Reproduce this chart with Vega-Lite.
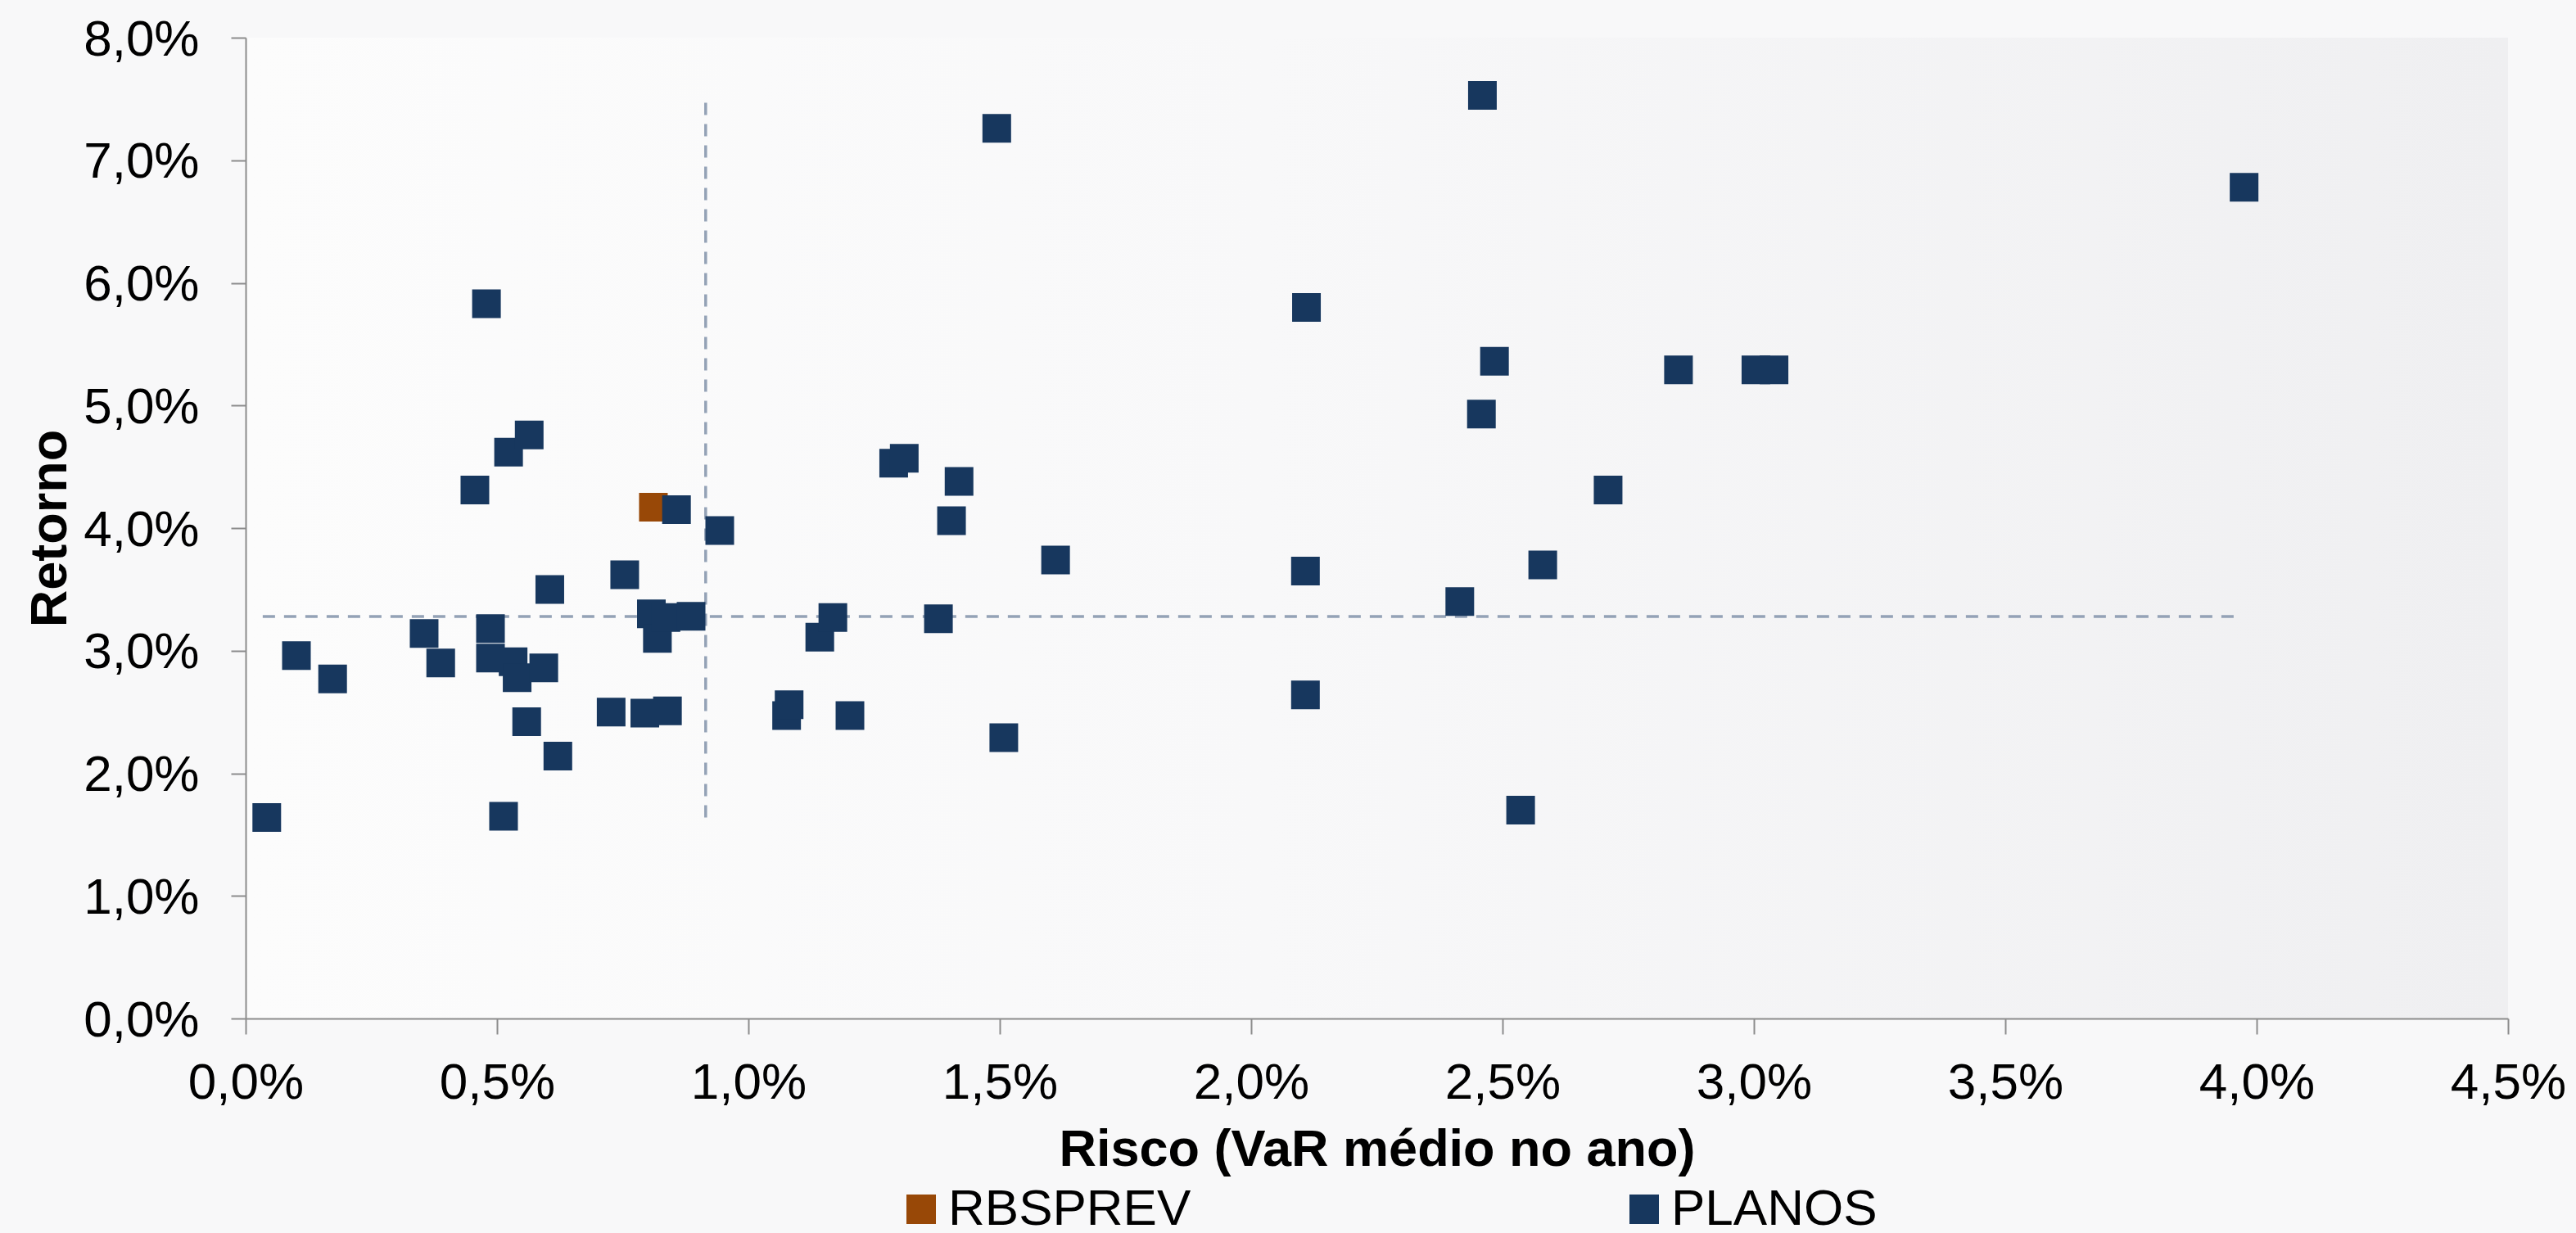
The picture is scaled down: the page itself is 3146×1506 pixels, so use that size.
{
  "$schema": "https://vega.github.io/schema/vega-lite/v6.json",
  "width": 2763,
  "height": 1198,
  "autosize": {"type": "none"},
  "padding": {"left": 300, "top": 46, "right": 83, "bottom": 262},
  "background": "#f8f8f9",
  "config": {
    "font": "Liberation Sans",
    "view": {
      "stroke": null,
      "fill": {
        "gradient": "linear", "x1": 0, "y1": 0, "x2": 1, "y2": 0,
        "stops": [
          {"offset": 0, "color": "#fcfcfc"},
          {"offset": 0.45, "color": "#f8f8f9"},
          {"offset": 1, "color": "#efeff1"}
        ]
      }
    },
    "axis": {
      "domainColor": "#8c8c8c",
      "domainWidth": 2,
      "tickColor": "#8c8c8c",
      "tickWidth": 2,
      "grid": false,
      "labelFont": "Liberation Sans",
      "labelFontSize": 62,
      "labelColor": "#000000",
      "labelFlush": false,
      "labelOverlap": false,
      "labelBound": false,
      "titleFont": "Liberation Sans",
      "titleFontSize": 63,
      "titleFontWeight": "bold",
      "titleColor": "#000000"
    }
  },
  "datasets": {
    "pts": [
      {"serie": "RBSPREV", "risco": 0.811, "retorno": 4.17},
      {"serie": "PLANOS", "risco": 0.042, "retorno": 1.64},
      {"serie": "PLANOS", "risco": 0.101, "retorno": 2.96},
      {"serie": "PLANOS", "risco": 0.173, "retorno": 2.77},
      {"serie": "PLANOS", "risco": 0.355, "retorno": 3.14},
      {"serie": "PLANOS", "risco": 0.388, "retorno": 2.90},
      {"serie": "PLANOS", "risco": 0.456, "retorno": 4.31},
      {"serie": "PLANOS", "risco": 0.479, "retorno": 5.83},
      {"serie": "PLANOS", "risco": 0.487, "retorno": 3.18},
      {"serie": "PLANOS", "risco": 0.487, "retorno": 2.94},
      {"serie": "PLANOS", "risco": 0.513, "retorno": 1.65},
      {"serie": "PLANOS", "risco": 0.523, "retorno": 4.62},
      {"serie": "PLANOS", "risco": 0.532, "retorno": 2.91},
      {"serie": "PLANOS", "risco": 0.540, "retorno": 2.78},
      {"serie": "PLANOS", "risco": 0.564, "retorno": 4.76},
      {"serie": "PLANOS", "risco": 0.559, "retorno": 2.42},
      {"serie": "PLANOS", "risco": 0.593, "retorno": 2.86},
      {"serie": "PLANOS", "risco": 0.605, "retorno": 3.50},
      {"serie": "PLANOS", "risco": 0.621, "retorno": 2.14},
      {"serie": "PLANOS", "risco": 0.727, "retorno": 2.50},
      {"serie": "PLANOS", "risco": 0.754, "retorno": 3.62},
      {"serie": "PLANOS", "risco": 0.794, "retorno": 2.49},
      {"serie": "PLANOS", "risco": 0.807, "retorno": 3.30},
      {"serie": "PLANOS", "risco": 0.819, "retorno": 3.10},
      {"serie": "PLANOS", "risco": 0.839, "retorno": 2.51},
      {"serie": "PLANOS", "risco": 0.836, "retorno": 3.27},
      {"serie": "PLANOS", "risco": 0.857, "retorno": 4.15},
      {"serie": "PLANOS", "risco": 0.886, "retorno": 3.28},
      {"serie": "PLANOS", "risco": 0.943, "retorno": 3.98},
      {"serie": "PLANOS", "risco": 1.076, "retorno": 2.47},
      {"serie": "PLANOS", "risco": 1.081, "retorno": 2.56},
      {"serie": "PLANOS", "risco": 1.142, "retorno": 3.11},
      {"serie": "PLANOS", "risco": 1.168, "retorno": 3.27},
      {"serie": "PLANOS", "risco": 1.202, "retorno": 2.47},
      {"serie": "PLANOS", "risco": 1.289, "retorno": 4.53},
      {"serie": "PLANOS", "risco": 1.310, "retorno": 4.57},
      {"serie": "PLANOS", "risco": 1.378, "retorno": 3.26},
      {"serie": "PLANOS", "risco": 1.404, "retorno": 4.06},
      {"serie": "PLANOS", "risco": 1.419, "retorno": 4.38},
      {"serie": "PLANOS", "risco": 1.494, "retorno": 7.26},
      {"serie": "PLANOS", "risco": 1.508, "retorno": 2.29},
      {"serie": "PLANOS", "risco": 1.611, "retorno": 3.74},
      {"serie": "PLANOS", "risco": 2.108, "retorno": 3.65},
      {"serie": "PLANOS", "risco": 2.108, "retorno": 2.64},
      {"serie": "PLANOS", "risco": 2.110, "retorno": 5.80},
      {"serie": "PLANOS", "risco": 2.415, "retorno": 3.40},
      {"serie": "PLANOS", "risco": 2.460, "retorno": 7.53},
      {"serie": "PLANOS", "risco": 2.458, "retorno": 4.93},
      {"serie": "PLANOS", "risco": 2.484, "retorno": 5.36},
      {"serie": "PLANOS", "risco": 2.536, "retorno": 1.70},
      {"serie": "PLANOS", "risco": 2.580, "retorno": 3.70},
      {"serie": "PLANOS", "risco": 2.710, "retorno": 4.31},
      {"serie": "PLANOS", "risco": 2.850, "retorno": 5.29},
      {"serie": "PLANOS", "risco": 3.004, "retorno": 5.29},
      {"serie": "PLANOS", "risco": 3.040, "retorno": 5.29},
      {"serie": "PLANOS", "risco": 3.975, "retorno": 6.78}
    ],
    "hline": [{"risco": 0.034, "risco2": 3.97, "retorno": 3.278}],
    "vline": [{"risco": 0.915, "retorno": 1.64, "retorno2": 7.5}]
  },
  "layer": [
    {
      "data": {"name": "hline"},
      "mark": {"type": "rule", "color": "#94a2b6", "strokeWidth": 3.5, "strokeDash": [15, 11]},
      "encoding": {
        "x": {
          "field": "risco", "type": "quantitative",
          "scale": {"domain": [0, 4.5], "nice": false},
          "axis": {
            "values": [0, 0.5, 1, 1.5, 2, 2.5, 3, 3.5, 4, 4.5],
            "labelExpr": "replace(format(datum.value, '.1f'), '.', ',') + '%'",
            "tickSize": 19,
            "labelPadding": 29,
            "title": "Risco (VaR médio no ano)",
            "titleX": 1381.5,
            "titleY": 179,
            "titleAlign": "center",
            "titleBaseline": "alphabetic",
            "titleAngle": 0
          }
        },
        "x2": {"field": "risco2"},
        "y": {
          "field": "retorno", "type": "quantitative",
          "scale": {"domain": [0, 8], "nice": false},
          "axis": {
            "values": [0, 1, 2, 3, 4, 5, 6, 7, 8],
            "labelExpr": "replace(format(datum.value, '.1f'), '.', ',') + '%'",
            "tickSize": 18,
            "labelPadding": 39,
            "labelOffset": 2,
            "title": "Retorno",
            "titleX": -220,
            "titleY": 599,
            "titleAngle": 270,
            "titleAlign": "center",
            "titleBaseline": "alphabetic"
          }
        }
      }
    },
    {
      "data": {"name": "vline"},
      "mark": {"type": "rule", "color": "#94a2b6", "strokeWidth": 3.5, "strokeDash": [15, 11]},
      "encoding": {
        "x": {
          "field": "risco", "type": "quantitative",
          "axis": {
            "values": [0, 0.5, 1, 1.5, 2, 2.5, 3, 3.5, 4, 4.5],
            "labelExpr": "replace(format(datum.value, '.1f'), '.', ',') + '%'",
            "tickSize": 19,
            "labelPadding": 29,
            "title": "Risco (VaR médio no ano)",
            "titleX": 1381.5,
            "titleY": 179,
            "titleAlign": "center",
            "titleBaseline": "alphabetic",
            "titleAngle": 0
          }
        },
        "y": {
          "field": "retorno", "type": "quantitative",
          "axis": {
            "values": [0, 1, 2, 3, 4, 5, 6, 7, 8],
            "labelExpr": "replace(format(datum.value, '.1f'), '.', ',') + '%'",
            "tickSize": 18,
            "labelPadding": 39,
            "labelOffset": 2,
            "title": "Retorno",
            "titleX": -220,
            "titleY": 599,
            "titleAngle": 270,
            "titleAlign": "center",
            "titleBaseline": "alphabetic"
          }
        },
        "y2": {"field": "retorno2"}
      }
    },
    {
      "data": {"name": "pts"},
      "mark": {"type": "point", "shape": "square", "filled": true, "size": 1225, "opacity": 1, "strokeWidth": 0},
      "encoding": {
        "x": {
          "field": "risco", "type": "quantitative",
          "axis": {
            "values": [0, 0.5, 1, 1.5, 2, 2.5, 3, 3.5, 4, 4.5],
            "labelExpr": "replace(format(datum.value, '.1f'), '.', ',') + '%'",
            "tickSize": 19,
            "labelPadding": 29,
            "title": "Risco (VaR médio no ano)",
            "titleX": 1381.5,
            "titleY": 179,
            "titleAlign": "center",
            "titleBaseline": "alphabetic",
            "titleAngle": 0
          }
        },
        "y": {
          "field": "retorno", "type": "quantitative",
          "axis": {
            "values": [0, 1, 2, 3, 4, 5, 6, 7, 8],
            "labelExpr": "replace(format(datum.value, '.1f'), '.', ',') + '%'",
            "tickSize": 18,
            "labelPadding": 39,
            "labelOffset": 2,
            "title": "Retorno",
            "titleX": -220,
            "titleY": 599,
            "titleAngle": 270,
            "titleAlign": "center",
            "titleBaseline": "alphabetic"
          }
        },
        "color": {
          "field": "serie", "type": "nominal",
          "scale": {"domain": ["RBSPREV", "PLANOS"], "range": ["#984807", "#17375e"]},
          "legend": {
            "orient": "none",
            "legendX": 794,
            "legendY": 1400,
            "direction": "horizontal",
            "columns": 2,
            "columnPadding": 522,
            "title": null,
            "symbolType": "square",
            "symbolSize": 1296,
            "symbolStrokeWidth": 0,
            "symbolOpacity": 1,
            "labelFontSize": 62,
            "labelFont": "Liberation Sans",
            "labelOffset": 2,
            "labelColor": "#000000",
            "labelLimit": 2000,
            "padding": 0
          }
        }
      }
    }
  ]
}
